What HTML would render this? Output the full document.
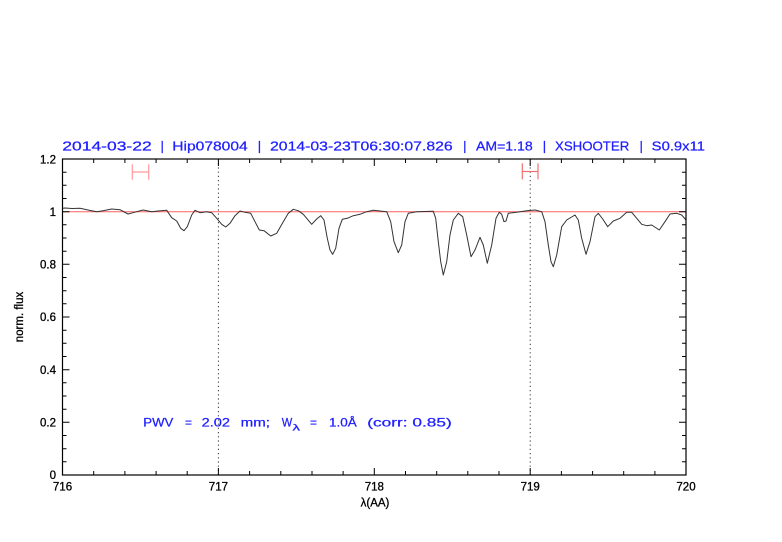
<!DOCTYPE html>
<html><head><meta charset="utf-8"><style>
html,body{margin:0;padding:0;background:#fff;}
svg{display:block;}
text{font-family:"Liberation Sans",sans-serif;}
</style></head><body>
<svg width="782" height="542" viewBox="0 0 782 542" xmlns="http://www.w3.org/2000/svg">
<rect width="782" height="542" fill="#fff"/>
<!-- title -->
<g font-size="13" fill="#1f1fff" stroke="#1f1fff" stroke-width="0.25">
<text x="62.3" y="150.3" textLength="89.4" lengthAdjust="spacingAndGlyphs">2014-03-22</text>
<text x="160.5" y="150.3">|</text>
<text x="172.3" y="150.3" textLength="75.4" lengthAdjust="spacingAndGlyphs">Hip078004</text>
<text x="257.8" y="150.3">|</text>
<text x="270" y="150.3" textLength="182.7" lengthAdjust="spacingAndGlyphs">2014-03-23T06:30:07.826</text>
<text x="463.1" y="150.3">|</text>
<text x="476" y="150.3" textLength="56.7" lengthAdjust="spacingAndGlyphs">AM=1.18</text>
<text x="542.8" y="150.3">|</text>
<text x="555" y="150.3" textLength="74.3" lengthAdjust="spacingAndGlyphs">XSHOOTER</text>
<text x="639.5" y="150.3">|</text>
<text x="651.7" y="150.3" textLength="53.3" lengthAdjust="spacingAndGlyphs">S0.9x11</text>
</g>

<!-- reference line at 1 -->
<line x1="62.5" y1="211.7" x2="686" y2="211.7" stroke="#ff6060" stroke-width="1"/>

<!-- dotted verticals -->
<line x1="218.4" y1="159" x2="218.4" y2="475" stroke="#333" stroke-width="1" stroke-dasharray="1.2,3"/>
<line x1="530.2" y1="159" x2="530.2" y2="475" stroke="#333" stroke-width="1" stroke-dasharray="1.2,3"/>

<!-- error bars -->
<g stroke="#ff9a9a" stroke-width="1.2" fill="none">
<line x1="132.3" y1="172" x2="148.7" y2="172"/>
<line x1="132.3" y1="164.3" x2="132.3" y2="179.7"/>
<line x1="148.7" y1="164.3" x2="148.7" y2="179.7"/>
</g>
<g stroke="#f07070" stroke-width="1.2" fill="none">
<line x1="522.3" y1="171.5" x2="538" y2="171.5"/>
<line x1="522.3" y1="163.3" x2="522.3" y2="179.3"/>
<line x1="538" y1="163.3" x2="538" y2="179.3"/>
</g>

<!-- spectrum -->
<polyline fill="none" stroke="#333" stroke-width="1" stroke-linejoin="round" points="62.5,208.3 65,208 72,208.5 80,208.3 88,210 96.7,211.7 103,210.7 111.7,209 120,209.7 128,214 133,212.7 143,210 151.7,211.7 158,211 166.7,210.3 171.7,217.7 176.7,221 180.7,228.3 184,230.7 187.3,226.7 191.7,215 195,210.3 200,212.7 206.7,211.7 211.7,212.7 216.7,218.3 221.7,224.3 225.7,227 230,223.3 235,215.7 240,211 245,212.3 250.7,213.3 255,221.7 259.3,230 264,230.7 270.7,236 276.7,233.3 283.3,221.7 288.3,213.3 293.3,209.3 298.3,210.7 303.3,214.3 311.7,224.3 316.7,219 320.7,215.7 324,220 327.3,238.3 330,250 332.7,254.3 335.7,248.3 339,228.3 342.3,219.3 347.3,218.3 353.3,215.7 360,214.3 366.7,211.7 373.3,210.3 380,211 386.7,211.7 390.7,221.7 394,241.7 398.3,252.7 401.7,245 405,221.7 408.3,213.3 416.7,211.7 433.3,211.3 435.7,218.3 438.3,241.7 440.7,261.7 443.3,275 446.7,261.7 450,235 453.3,220 458.3,213.3 462.7,216.7 466.7,235 471,256.7 475,250 480,237.3 483.3,245 487.3,263.3 491.7,245 496,218.3 499.3,212.3 501.7,214.3 504,221.7 506,221 508.3,213.3 516.7,212.3 526.7,210.7 535,210 541.7,211.7 545,221.7 548.3,245 551,261.7 553.3,266.7 556.7,255 561.7,226.7 566.7,220 575,215 578.3,220 581.7,238.3 586,254.3 590,241.7 595,216.7 598.3,213.3 602.7,219 607.7,226.7 613.3,221 620,218.3 626.7,212.3 631.7,212.3 636.7,218.3 641.7,224.3 646.7,225.7 651.7,225 659.3,230 665,221.7 670,214 676.7,213.3 681.7,215 686,220"/>

<!-- axes box -->
<rect x="62.5" y="159" width="623.5" height="316" fill="none" stroke="#000" stroke-width="1.2"/>

<!-- x ticks -->
<g stroke="#000" stroke-width="1">
<path d="M93.7,475v-4M124.9,475v-4M156.1,475v-4M187.2,475v-4M218.4,475v-7M249.6,475v-4M280.8,475v-4M312,475v-4M343.1,475v-4M374.3,475v-7M405.5,475v-4M436.7,475v-4M467.8,475v-4M499,475v-4M530.2,475v-7M561.4,475v-4M592.6,475v-4M623.7,475v-4M654.9,475v-4"/>
<path d="M93.7,159v4M124.9,159v4M156.1,159v4M187.2,159v4M218.4,159v7M249.6,159v4M280.8,159v4M312,159v4M343.1,159v4M374.3,159v7M405.5,159v4M436.7,159v4M467.8,159v4M499,159v4M530.2,159v7M561.4,159v4M592.6,159v4M623.7,159v4M654.9,159v4"/>
<!-- y ticks left -->
<path d="M62.5,461.8h4M62.5,448.7h4M62.5,435.5h4M62.5,422.3h7M62.5,409.2h4M62.5,396h4M62.5,382.8h4M62.5,369.7h7M62.5,356.5h4M62.5,343.3h4M62.5,330.2h4M62.5,317h7M62.5,303.8h4M62.5,290.7h4M62.5,277.5h4M62.5,264.3h7M62.5,251.2h4M62.5,238h4M62.5,224.8h4M62.5,211.7h7M62.5,198.5h4M62.5,185.3h4M62.5,172.2h4"/>
<!-- y ticks right -->
<path d="M686,461.8h-4M686,448.7h-4M686,435.5h-4M686,422.3h-7M686,409.2h-4M686,396h-4M686,382.8h-4M686,369.7h-7M686,356.5h-4M686,343.3h-4M686,330.2h-4M686,317h-7M686,303.8h-4M686,290.7h-4M686,277.5h-4M686,264.3h-7M686,251.2h-4M686,238h-4M686,224.8h-4M686,211.7h-7M686,198.5h-4M686,185.3h-4M686,172.2h-4"/>
</g>

<!-- y tick labels -->
<g font-size="11.5" fill="#000" stroke="#000" stroke-width="0.3" text-anchor="end">
<text x="56" y="479">0</text>
<text x="56" y="426.5">0.2</text>
<text x="56" y="373.8">0.4</text>
<text x="56" y="321">0.6</text>
<text x="56" y="268.4">0.8</text>
<text x="56" y="215.8">1</text>
<text x="56" y="163.5">1.2</text>
</g>
<!-- x tick labels -->
<g font-size="11.5" fill="#000" stroke="#000" stroke-width="0.3" text-anchor="middle">
<text x="62.5" y="490.5">716</text>
<text x="218.4" y="490.5">717</text>
<text x="374.3" y="490.5">718</text>
<text x="530.2" y="490.5">719</text>
<text x="686" y="490.5">720</text>
</g>
<text x="375" y="506.5" font-size="11.5" fill="#000" stroke="#000" stroke-width="0.3" text-anchor="middle">λ(AA)</text>
<text transform="translate(23,317) rotate(-90)" font-size="11.5" fill="#000" stroke="#000" stroke-width="0.3" text-anchor="middle">norm. flux</text>

<!-- PWV annotation -->
<g font-size="12" fill="#1f1fff" stroke="#1f1fff" stroke-width="0.25">
<text x="143.3" y="426.7" textLength="30" lengthAdjust="spacingAndGlyphs">PWV</text>
<text x="185" y="426.7" textLength="7" lengthAdjust="spacingAndGlyphs">=</text>
<text x="201.7" y="426.7" textLength="28.3" lengthAdjust="spacingAndGlyphs">2.02</text>
<text x="240.7" y="426.7" textLength="29.3" lengthAdjust="spacingAndGlyphs">mm;</text>
<text x="281.7" y="426.7" textLength="10.5" lengthAdjust="spacingAndGlyphs">W</text>
<text x="292.5" y="430.5" font-size="9" textLength="7.5" lengthAdjust="spacingAndGlyphs">λ</text>
<text x="310" y="426.7" textLength="7" lengthAdjust="spacingAndGlyphs">=</text>
<text x="329" y="426.7" textLength="27.7" lengthAdjust="spacingAndGlyphs">1.0Å</text>
<text x="367.3" y="426.7" textLength="84.4" lengthAdjust="spacingAndGlyphs">(corr: 0.85)</text>
</g>
</svg>
</body></html>
